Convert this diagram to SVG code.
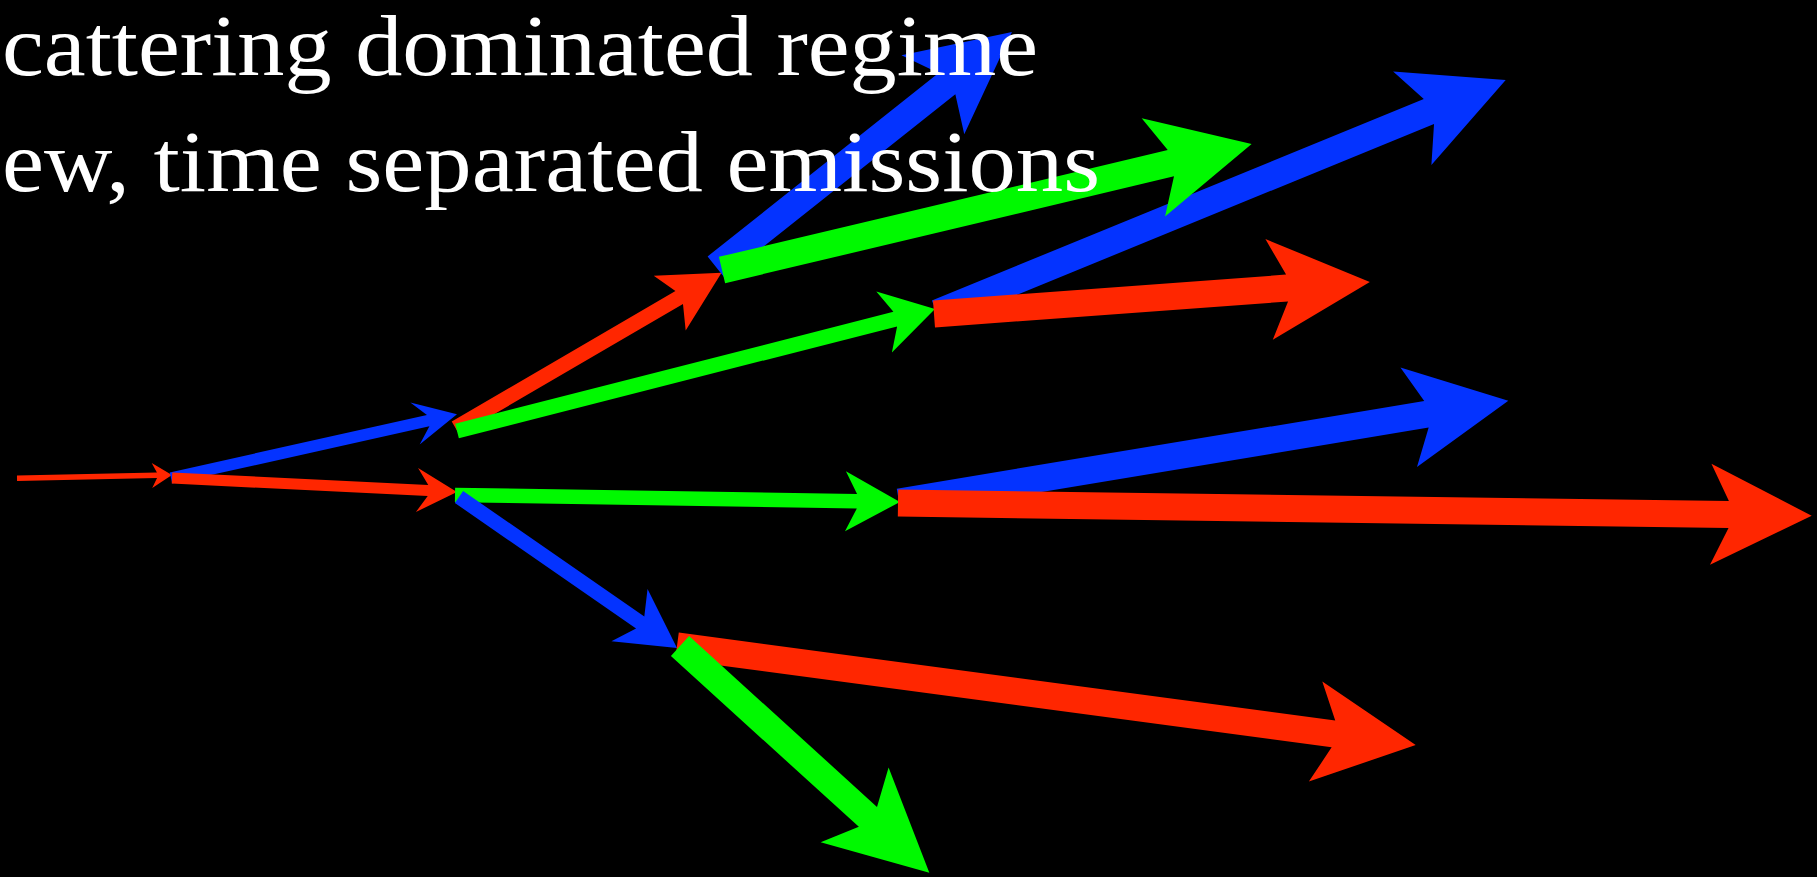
<svg xmlns="http://www.w3.org/2000/svg" width="1817" height="877" viewBox="0 0 1817 877">
<style>
.r{fill:#FF2600}
.g{fill:#00F900}
.b{fill:#0433FF}
.t{font-family:"Liberation Serif","Times New Roman",serif;font-size:86px;fill:#FFFFFF}
</style>
<rect x="0" y="0" width="1817" height="877" fill="#000000"/>
<g id="connectors">
<polygon id="a0" class="r" transform="translate(17,478.3) rotate(-1.22)" points="0,-2.75 140,-2.75 135,-12.5 155,0 135,12.5 140,2.75 0,2.75"/>
<polygon id="a1" class="b" transform="translate(171,478) rotate(-12.57)" points="0,-5.75 263.5,-5.75 250,-21.5 293,0 250,21.5 263.5,5.75 0,5.75"/>
<polygon id="a2" class="r" transform="translate(172,478) rotate(2.81)" points="0,-5.5 256.3,-5.5 245.3,-22 285.3,0 245.3,22 256.3,5.5 0,5.5"/>
<polygon id="a3" class="r" transform="translate(455.5,428) rotate(-30.26)" points="0,-7.5 259,-7.5 248,-31.7 308,0 248,31.7 259,7.5 0,7.5"/>
<polygon id="a4" class="g" transform="translate(457,431) rotate(-14.32)" points="0,-7.5 452.3,-7.5 440.8,-31.5 493.3,0 440.8,31.5 452.3,7.5 0,7.5"/>
<polygon id="a5" class="g" transform="translate(455,495) rotate(0.9)" points="0,-7.25 402,-7.25 390.5,-30 445,0 390.5,30 402,7.25 0,7.25"/>
<polygon id="a6" class="b" transform="translate(459,497) rotate(34.71)" points="0,-7.25 220.4,-7.25 207.4,-31.7 265.2,0 207.4,31.7 220.4,7.25 0,7.25"/>
<polygon id="a7" class="b" transform="translate(716,267) rotate(-38.45)" points="0,-13.5 294.9,-13.5 276.9,-50.5 377.9,0 276.9,50.5 294.9,13.5 0,13.5"/>
<polygon id="a9" class="b" transform="translate(937,313) rotate(-22.28)" points="0,-13.5 531.6,-13.5 513.6,-50.5 614.6,0 513.6,50.5 531.6,13.5 0,13.5"/>
<polygon id="a8" class="g" transform="translate(722,270) rotate(-13.38)" points="0,-13.5 461.4,-13.5 443.4,-50.5 544.4,0 443.4,50.5 461.4,13.5 0,13.5"/>
<polygon id="a10" class="r" transform="translate(934,314) rotate(-4.2)" points="0,-13.5 354,-13.5 336,-50.5 437,0 336,50.5 354,13.5 0,13.5"/>
<polygon id="a11" class="b" transform="translate(899,502) rotate(-9.44)" points="0,-13.5 534.7,-13.5 516.7,-50.5 617.7,0 516.7,50.5 534.7,13.5 0,13.5"/>
<polygon id="a12" class="r" transform="translate(898,503) rotate(0.8)" points="0,-13.5 830.8,-13.5 812.8,-50.5 913.8,0 812.8,50.5 830.8,13.5 0,13.5"/>
<polygon id="a13" class="r" transform="translate(677,646) rotate(7.63)" points="0,-13.5 662.3,-13.5 644.3,-50.5 745.3,0 644.3,50.5 662.3,13.5 0,13.5"/>
<polygon id="a14" class="g" transform="translate(680,646) rotate(42.28)" points="0,-13.5 254,-13.5 236,-50.5 337,0 236,50.5 254,13.5 0,13.5"/>
</g>
<g id="title">
<text class="t" x="2" y="75" textLength="1036" lengthAdjust="spacingAndGlyphs">cattering dominated regime</text>
<text class="t" x="2" y="191" textLength="1098" lengthAdjust="spacingAndGlyphs">ew, time separated emissions</text>
</g>
</svg>
